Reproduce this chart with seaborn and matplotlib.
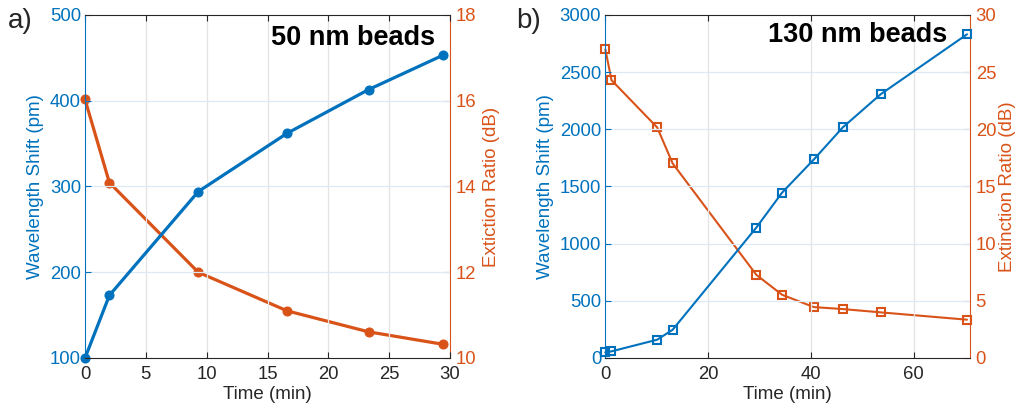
import matplotlib
matplotlib.use("Agg")
import matplotlib.pyplot as plt
import seaborn as sns
import pandas as pd

sns.set_theme(style="white")
plt.rcParams['font.family'] = ['Liberation Sans', 'DejaVu Sans']

BLUE = "#0072BD"
ORANGE = "#D95319"

# Panel a: 50 nm beads
time_a = [0, 2.0, 9.3, 16.6, 23.3, 29.4]
shift_a = [100, 173, 294, 362, 413, 453]
er_a = [16.03, 14.09, 12.0, 11.1, 10.61, 10.32]

# Panel b: 130 nm beads
time_b = [0, 1.2, 10.1, 13.1, 29.4, 34.4, 40.6, 46.2, 53.6, 70.4]
shift_b = [49, 58, 160, 247, 1141, 1446, 1737, 2016, 2307, 2831]
er_b = [27.0, 24.3, 20.16, 17.02, 7.27, 5.53, 4.45, 4.28, 3.99, 3.35]

fig = plt.figure(figsize=(10.16, 4.04), dpi=100)

def style_axes(ax, ax2, xlim, xticks, ylim, yticks, ylim2, yticks2):
    ax.set_xlim(*xlim)
    ax.set_xticks(xticks)
    ax.set_ylim(*ylim)
    ax.set_yticks(yticks)
    ax2.set_ylim(*ylim2)
    ax2.set_yticks(yticks2)
    for a in (ax, ax2):
        a.tick_params(direction='in', length=4, width=0.8, labelsize=13.3)
    ax.tick_params(axis='x', colors='#262626', top=True, bottom=True, labelcolor='#262626', pad=6)
    ax.tick_params(axis='y', colors=BLUE, labelcolor=BLUE, pad=3)
    ax2.tick_params(axis='y', colors=ORANGE, labelcolor=ORANGE, pad=4)
    ax2.tick_params(axis='x', top=False)
    for s in ('top', 'bottom'):
        ax.spines[s].set_color('#262626')
        ax.spines[s].set_linewidth(0.8)
        ax2.spines[s].set_visible(False)
    ax.spines['left'].set_color(BLUE)
    ax.spines['right'].set_visible(False)
    ax2.spines['left'].set_visible(False)
    ax2.spines['right'].set_color(ORANGE)
    ax.spines['left'].set_linewidth(0.8)
    ax2.spines['right'].set_linewidth(0.8)
    for x in xticks[1:]:
        ax.axvline(x, color='#e3e3e3', lw=0.9, zorder=0)
    for y in yticks[1:-1]:
        ax.axhline(y, color='#dde9f4', lw=0.9, zorder=0)
    ax.set_zorder(ax2.get_zorder() + 1)
    ax.patch.set_visible(False)

# ---------- Panel a ----------
axa = fig.add_axes([0.0837, 0.1139, 0.3593, 0.849])
axa2 = axa.twinx()
da = pd.DataFrame({'t': time_a, 'shift': shift_a, 'er': er_a})
sns.lineplot(data=da, x='t', y='er', ax=axa2, color=ORANGE, lw=2.3, marker='o',
             markersize=6.5, markeredgecolor=ORANGE, clip_on=False)
sns.lineplot(data=da, x='t', y='shift', ax=axa, color=BLUE, lw=2.3, marker='o',
             markersize=6.5, markeredgecolor=BLUE, clip_on=False)
style_axes(axa, axa2, (0, 30), [0, 5, 10, 15, 20, 25, 30], (100, 500),
           [100, 200, 300, 400, 500], (10, 18), [10, 12, 14, 16, 18])
axa.set_xlabel('Time (min)', fontsize=13.5, color='#262626', labelpad=2)
axa.set_ylabel('Wavelength Shift (pm)', fontsize=13.5, color=BLUE, labelpad=4)
axa2.set_ylabel('Extiction Ratio (dB)', fontsize=13.5, color=ORANGE, labelpad=5)
axa.text(0.959, 0.933, '50 nm beads', transform=axa.transAxes, ha='right', va='center',
         fontsize=19.5, fontweight='bold', color='black')
fig.text(0.008, 0.947, 'a)', fontsize=20, ha='left', va='center')

# ---------- Panel b ----------
axb = fig.add_axes([0.5958, 0.1139, 0.359, 0.849])
axb2 = axb.twinx()
db = pd.DataFrame({'t': time_b, 'shift': shift_b, 'er': er_b})
sns.lineplot(data=db, x='t', y='er', ax=axb2, color=ORANGE, lw=1.5, marker='s',
             markersize=5.5, markerfacecolor='none', markeredgecolor=ORANGE,
             markeredgewidth=1.5, clip_on=False)
sns.lineplot(data=db, x='t', y='shift', ax=axb, color=BLUE, lw=1.5, marker='s',
             markersize=5.5, markerfacecolor='none', markeredgecolor=BLUE,
             markeredgewidth=1.5, clip_on=False)
style_axes(axb, axb2, (0, 71), [0, 20, 40, 60], (0, 3000),
           [0, 500, 1000, 1500, 2000, 2500, 3000], (0, 30), [0, 5, 10, 15, 20, 25, 30])
axb.set_xlabel('Time (min)', fontsize=13.5, color='#262626', labelpad=2)
axb.set_ylabel('Wavelength Shift (pm)', fontsize=13.5, color=BLUE, labelpad=4)
axb2.set_ylabel('Extinction Ratio (dB)', fontsize=13.5, color=ORANGE, labelpad=2)
axb.text(0.937, 0.942, '130 nm beads', transform=axb.transAxes, ha='right', va='center',
         fontsize=19.5, fontweight='bold', color='black')
fig.text(0.508, 0.947, 'b)', fontsize=20, ha='left', va='center')

fig.savefig('out.png', dpi=100)
